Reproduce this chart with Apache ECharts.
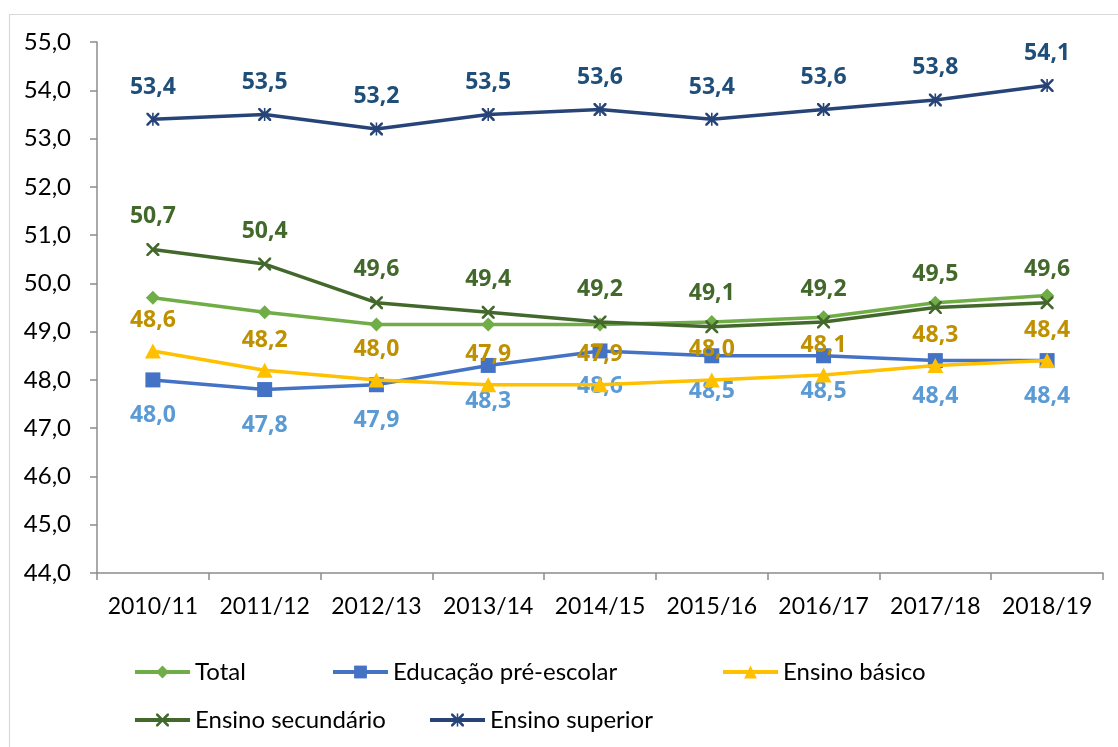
<!DOCTYPE html>
<html>
<head>
<meta charset="utf-8">
<script src="https://cdn.jsdelivr.net/npm/echarts@6/dist/echarts.min.js"></script>
<style>
html,body{margin:0;padding:0;background:#fff;}
#chart{width:1118px;height:747px;}
</style>
</head>
<body>
<div id="chart"></div>
<script>
const categories = ['2010/11','2011/12','2012/13','2013/14','2014/15','2015/16','2016/17','2017/18','2018/19'];
const total = [49.7, 49.4, 49.15, 49.15, 49.15, 49.2, 49.3, 49.6, 49.75];
const preEscolar = [48.0, 47.8, 47.9, 48.3, 48.6, 48.5, 48.5, 48.4, 48.4];
const basico = [48.6, 48.2, 48.0, 47.9, 47.9, 48.0, 48.1, 48.3, 48.4];
const secundario = [50.7, 50.4, 49.6, 49.4, 49.2, 49.1, 49.2, 49.5, 49.6];
const superior = [53.4, 53.5, 53.2, 53.5, 53.6, 53.4, 53.6, 53.8, 54.1];
const yTicks = {min: 44, max: 55, interval: 1};

const FONT = 'Lato';
const LFONT = 'Open Sans';
const xPath = 'path://M0,0 L1.4,0 L5,3.6 L8.6,0 L10,0 L10,1.4 L6.4,5 L10,8.6 L10,10 L8.6,10 L5,6.4 L1.4,10 L0,10 L0,8.6 L3.6,5 L0,1.4 Z';
const starPath = 'path://M0,0 L1.4,0 L5,3.6 L8.6,0 L10,0 L10,1.4 L6.4,5 L10,8.6 L10,10 L8.6,10 L5,6.4 L1.4,10 L0,10 L0,8.6 L3.6,5 L0,1.4 Z M4.4,0 L5.6,0 L5.6,10 L4.4,10 Z';
const fmt = p => p.value.toFixed(1).replace('.', ',');

function lbl(color, pos, dist) {
  return {show: true, position: pos, distance: dist, color: color, fontFamily: LFONT,
          fontWeight: 'bold', fontSize: 23, formatter: fmt};
}

const chart = echarts.init(document.getElementById('chart'));
const legendBase = {
  itemWidth: 55, itemHeight: 16, itemGap: 0, padding: 0,
  lineStyle: {width: 4},
  textStyle: {fontFamily: FONT, fontSize: 24, color: '#000', lineHeight: 26},
  selectedMode: false
};
chart.setOption({
  animation: false,
  backgroundColor: '#fff',
  graphic: [{type: 'rect', left: 7, top: 12, shape: {width: 1200, height: 800},
    style: {fill: 'none', stroke: '#d9d9d9', lineWidth: 1.2}, silent: true, z: -1}],
  grid: {left: 97, right: 15, top: 42, bottom: 174},
  legend: [
    Object.assign({}, legendBase, {data: ['Total'], left: 133, top: 659}),
    Object.assign({}, legendBase, {data: ['Educação pré-escolar'], left: 331, top: 659}),
    Object.assign({}, legendBase, {data: ['Ensino básico'], left: 721, top: 659}),
    Object.assign({}, legendBase, {data: ['Ensino secundário'], left: 133, top: 707}),
    Object.assign({}, legendBase, {data: ['Ensino superior'], left: 428, top: 707})
  ],
  xAxis: {
    type: 'category', data: categories, boundaryGap: true,
    axisLine: {lineStyle: {color: '#8c8c8c', width: 1.5}},
    axisTick: {show: true, length: 7, lineStyle: {color: '#8c8c8c', width: 1.5}},
    axisLabel: {fontFamily: FONT, fontSize: 23, color: '#000', margin: 22, interval: 0},
    splitLine: {show: false}
  },
  yAxis: {
    type: 'value', min: yTicks.min, max: yTicks.max, interval: yTicks.interval,
    axisLine: {show: true, lineStyle: {color: '#8c8c8c', width: 1.5}},
    axisTick: {show: true, length: 7, lineStyle: {color: '#8c8c8c', width: 1.5}},
    axisLabel: {fontFamily: FONT, fontSize: 24, color: '#000', margin: 26,
      formatter: v => v.toFixed(1).replace('.', ',')},
    splitLine: {show: false}
  },
  series: [
    {name: 'Total', type: 'line', data: total, symbol: 'diamond', symbolSize: 14,
     lineStyle: {color: '#70AD47', width: 3.5}, itemStyle: {color: '#70AD47'}, z: 3},
    {name: 'Educação pré-escolar', type: 'line', data: preEscolar, symbol: 'rect', symbolSize: 15,
     lineStyle: {color: '#4472C4', width: 3.5}, itemStyle: {color: '#4472C4'},
     label: lbl('#5B9BD5', 'bottom', 17), z: 2},
    {name: 'Ensino básico', type: 'line', data: basico, symbol: 'triangle', symbolSize: [16, 15],
     lineStyle: {color: '#FFC000', width: 3.5}, itemStyle: {color: '#FFC000'},
     label: lbl('#BF9000', 'top', 11), z: 4},
    {name: 'Ensino secundário', type: 'line', data: secundario, symbol: xPath, symbolSize: 13,
     lineStyle: {color: '#43682B', width: 3.5}, itemStyle: {color: '#43682B'},
     label: lbl('#43682B', 'top', 15), z: 5},
    {name: 'Ensino superior', type: 'line', data: superior, symbol: starPath, symbolSize: 13,
     lineStyle: {color: '#264478', width: 3.5}, itemStyle: {color: '#264478'},
     label: lbl('#1F4E79', 'top', 14), z: 6}
  ]
});
</script>
</body>
</html>
